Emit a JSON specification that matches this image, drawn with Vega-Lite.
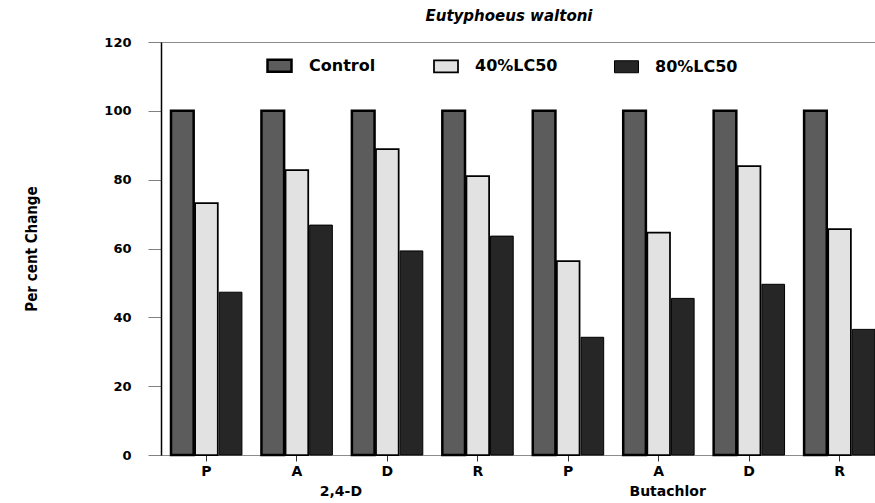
{
  "$schema": "https://vega.github.io/schema/vega-lite/v6.json",
  "autosize": "none",
  "width": 714,
  "height": 413,
  "padding": {"left": 161, "top": 42, "right": 0, "bottom": 48},
  "background": "white",
  "config": {
    "view": {"stroke": "#8c8c8c", "strokeWidth": 1},
    "font": "DejaVu Sans"
  },
  "title": {
    "text": "Eutyphoeus waltoni",
    "font": "DejaVu Sans",
    "fontSize": 15,
    "fontWeight": "bold",
    "fontStyle": "italic",
    "color": "black",
    "offset": 12,
    "dx": -9
  },
  "datasets": {
    "bars": [
      {"cat": "2,4-D P", "series": "Control", "value": 100},
      {"cat": "2,4-D P", "series": "40%LC50", "value": 73.2},
      {"cat": "2,4-D P", "series": "80%LC50", "value": 47.3},
      {"cat": "2,4-D A", "series": "Control", "value": 100},
      {"cat": "2,4-D A", "series": "40%LC50", "value": 82.8},
      {"cat": "2,4-D A", "series": "80%LC50", "value": 66.8},
      {"cat": "2,4-D D", "series": "Control", "value": 100},
      {"cat": "2,4-D D", "series": "40%LC50", "value": 88.9},
      {"cat": "2,4-D D", "series": "80%LC50", "value": 59.3},
      {"cat": "2,4-D R", "series": "Control", "value": 100},
      {"cat": "2,4-D R", "series": "40%LC50", "value": 81.0},
      {"cat": "2,4-D R", "series": "80%LC50", "value": 63.6},
      {"cat": "Butachlor P", "series": "Control", "value": 100},
      {"cat": "Butachlor P", "series": "40%LC50", "value": 56.3},
      {"cat": "Butachlor P", "series": "80%LC50", "value": 34.2},
      {"cat": "Butachlor A", "series": "Control", "value": 100},
      {"cat": "Butachlor A", "series": "40%LC50", "value": 64.6},
      {"cat": "Butachlor A", "series": "80%LC50", "value": 45.5},
      {"cat": "Butachlor D", "series": "Control", "value": 100},
      {"cat": "Butachlor D", "series": "40%LC50", "value": 83.9},
      {"cat": "Butachlor D", "series": "80%LC50", "value": 49.6},
      {"cat": "Butachlor R", "series": "Control", "value": 100},
      {"cat": "Butachlor R", "series": "40%LC50", "value": 65.6},
      {"cat": "Butachlor R", "series": "80%LC50", "value": 36.5}
    ]
  },
  "layer": [
    {
      "data": {"name": "bars"},
      "mark": {"type": "bar", "stroke": "black"},
      "encoding": {
        "x": {
          "field": "cat",
          "type": "nominal",
          "sort": null,
          "scale": {"paddingInner": 0.216, "paddingOuter": 0.0553, "align": 1},
          "axis": {
            "title": null,
            "labelExpr": "split(datum.label, ' ')[1]",
            "labelAngle": 0,
            "labelFont": "DejaVu Sans",
            "labelFontSize": 14,
            "labelFontWeight": "bold",
            "labelColor": "black",
            "labelPadding": 3,
            "tickSize": 6,
            "tickColor": "#333333",
            "domainColor": "#8c8c8c",
            "domainWidth": 1
          }
        },
        "xOffset": {
          "field": "series",
          "type": "nominal",
          "sort": ["Control", "40%LC50", "80%LC50"],
          "scale": {"paddingInner": 0.06, "paddingOuter": 0}
        },
        "y": {
          "field": "value",
          "type": "quantitative",
          "scale": {"domain": [0, 120], "nice": false},
          "axis": {
            "title": "Per cent Change",
            "titleFont": "Liberation Sans Narrow, DejaVu Sans Condensed, Liberation Sans",
            "titleFontSize": 15,
            "titleFontWeight": "bold",
            "titleColor": "black",
            "titlePadding": 64,
            "values": [0, 5, 10, 15, 20, 25, 30, 35, 40, 45, 50, 55, 60, 65, 70, 75, 80, 85, 90, 95, 100, 105, 110, 115, 120],
            "labelExpr": "datum.value % 20 === 0 ? datum.label : ''",
            "labelFont": "DejaVu Sans",
            "labelFontSize": 13,
            "labelFontWeight": "bold",
            "labelColor": "black",
            "labelPadding": 17,
            "tickSize": {"condition": {"test": "datum.value % 20 === 0", "value": 13}, "value": 5},
            "tickColor": "#808080",
            "domainColor": "black",
            "domainWidth": 1.5,
            "grid": false
          }
        },
        "fill": {
          "field": "series",
          "type": "nominal",
          "sort": ["Control", "40%LC50", "80%LC50"],
          "scale": {"domain": ["Control", "40%LC50", "80%LC50"], "range": ["#5c5c5c", "#e2e2e2", "#262626"]},
          "legend": {
            "title": null,
            "orient": "none",
            "legendX": 105,
            "legendY": 10,
            "direction": "horizontal",
            "symbolType": "M-1,-0.5H1V0.5H-1Z",
            "symbolSize": 576,
            "symbolStrokeColor": "black",
            "symbolStrokeWidth": 1.5,
            "labelFont": "DejaVu Sans",
            "labelFontSize": 16,
            "labelFontWeight": "bold",
            "labelColor": "black",
            "labelOffset": 16,
            "columnPadding": 54
          }
        },
        "strokeWidth": {
          "field": "series",
          "type": "nominal",
          "scale": {"domain": ["Control", "40%LC50", "80%LC50"], "range": [2.5, 1, 1]},
          "legend": null
        }
      }
    },
    {
      "data": {"values": [{"group": "2,4-D", "anchor": "2,4-D A"}]},
      "mark": {"type": "text", "font": "DejaVu Sans", "fontSize": 14, "fontWeight": "bold", "color": "black", "baseline": "middle", "dy": 37, "dx": 44},
      "encoding": {
        "x": {"field": "anchor", "type": "nominal", "sort": null},
        "y": {"datum": 0, "type": "quantitative"},
        "text": {"field": "group"}
      }
    },
    {
      "data": {"values": [{"group": "Butachlor", "anchor": "Butachlor A"}]},
      "mark": {"type": "text", "font": "DejaVu Sans", "fontSize": 14, "fontWeight": "bold", "color": "black", "baseline": "middle", "dy": 37, "dx": 9},
      "encoding": {
        "x": {"field": "anchor", "type": "nominal", "sort": null},
        "y": {"datum": 0, "type": "quantitative"},
        "text": {"field": "group"}
      }
    }
  ]
}
